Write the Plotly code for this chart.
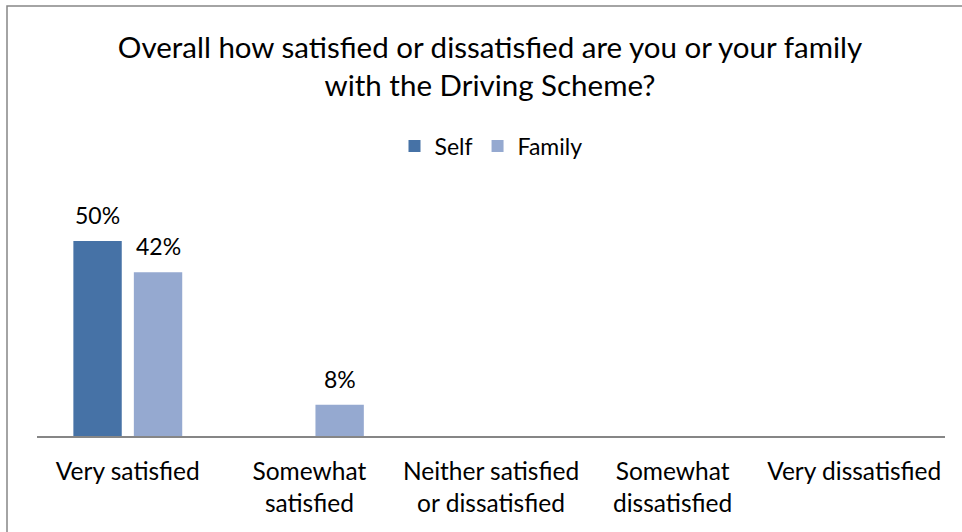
import plotly.graph_objects as go

categories = ["Very satisfied", "Somewhat<br>satisfied", "Neither satisfied<br>or dissatisfied",
              "Somewhat<br>dissatisfied", "Very dissatisfied"]
self_vals = [50, None, None, None, None]
family_vals = [42, 8, None, None, None]
series_names = ["Self", "Family"]
colors = ["#4672A6", "#95A9D0"]

FONT = "Lato"
W, H = 962, 532
L, R, T, B = 37, 17, 202, 96

fig = go.Figure()
for name, vals, col in zip(series_names, [self_vals, family_vals], colors):
    fig.add_trace(go.Bar(x=categories, y=vals, name=name, marker=dict(color=col, line=dict(width=0))))

# data labels
plot_w = W - L - R
slot = plot_w / len(categories) * (1 - 0.334) / 2
for i, vals in enumerate([self_vals, family_vals]):
    shift = (i - 0.5) * slot
    for c, v in zip(categories, vals):
        if v is None:
            continue
        fig.add_annotation(x=c, y=v, text=f"{v}%", showarrow=False, xshift=shift, yshift=26,
                           yanchor="middle", font=dict(family=FONT, size=23, color="#000000"))

plot_h = H - T - B
fig.add_shape(type="rect", xref="paper", yref="paper",
              x0=(7 - L) / plot_w, x1=1.2, y0=-0.8, y1=(H - B - 6) / plot_h,
              line=dict(color="#868686", width=1.5), fillcolor="rgba(0,0,0,0)", layer="below")

fig.update_layout(
    width=W, height=H,
    margin=dict(l=L, r=R, t=T, b=B, pad=0),
    paper_bgcolor="white", plot_bgcolor="white",
    barmode="group", bargap=0.334, bargroupgap=0.2,
    font=dict(family=FONT, size=23, color="#000000"),
    title=dict(text="Overall how satisfied or dissatisfied are you or your family<br>with the Driving Scheme?",
               x=(490) / W, xanchor="center", xref="container",
               y=1 - 58 / H, yanchor="top", yref="container",
               font=dict(family=FONT, size=29.5, color="#000000")),
    showlegend=True,
    legend=dict(orientation="h", x=0.5, xanchor="center", y=(H - B - 146) / plot_h, yanchor="middle",
                font=dict(family=FONT, size=23), itemclick=False, bgcolor="rgba(0,0,0,0)"),
    xaxis=dict(showline=True, linecolor="#868686", linewidth=2, ticks="", showgrid=False,
               zeroline=False, tickfont=dict(family=FONT, size=24.5), ticklabelstandoff=13),
    yaxis=dict(range=[0, 60], visible=False, showgrid=False, zeroline=False),
)

fig.write_html("out.html")
